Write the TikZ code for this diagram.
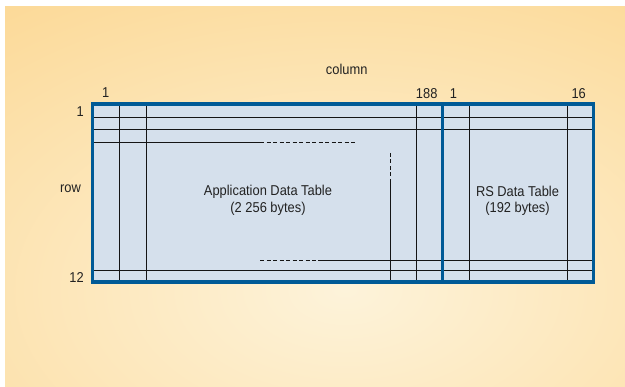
\documentclass[tikz,border=0pt]{standalone}
\usepackage{fontspec}
\setmainfont{Liberation Sans}[FakeStretch=0.9]
\definecolor{bgedge}{HTML}{FCD68F}
\definecolor{bgmid}{HTML}{FDF3DA}
\definecolor{cellfill}{HTML}{D5E0EC}
\definecolor{frameblue}{HTML}{005A96}
\definecolor{gridline}{HTML}{151515}
\definecolor{txt}{HTML}{222222}
\begin{document}
\begin{tikzpicture}[x=1pt,y=-1pt,
  gridrule/.style={draw=gridline, line width=1.3pt},
  gaprule/.style={gridrule, dash pattern=on 4pt off 2.5pt},
  frame/.style={draw=frameblue, line width=3.5pt},
  lbl/.style={text=txt, font=\fontsize{14.3}{17}\selectfont, inner sep=0pt, anchor=base}]
\useasboundingbox (0,0) rectangle (625,387);

% warm radial background
\begin{scope}
  \clip (5,7) rectangle (625,387);
  \fill[bgedge] (5,7) rectangle (625,387);
  \shade[inner color=bgmid, outer color=bgedge] (345,290) ellipse (660 and 400);
\end{scope}

% table corners
\coordinate (tl) at (92.5,104);
\coordinate (br) at (593.5,282);
\fill[cellfill] (tl) rectangle (br);

% horizontal rules
\draw[gridrule] (92.5,117.5) -- (593.5,117.5);
\draw[gridrule] (92.5,129.5) -- (593.5,129.5);
\draw[gridrule] (92.5,142.5) -- (260,142.5);
\draw[gaprule]  (260,142.5) -- (357,142.5);
\draw[gaprule]  (260,260.5) -- (318,260.5);
\draw[gridrule] (318,260.5) -- (593.5,260.5);
\draw[gridrule] (92.5,270.5) -- (593.5,270.5);

% vertical rules
\foreach \cx in {119.5,146.5,416.5,469.5,567.5}
  \draw[gridrule] (\cx,104) -- (\cx,282);
\draw[gaprule]  (390.5,153) -- (390.5,183);
\draw[gridrule] (390.5,183) -- (390.5,282);

% outer frame and divider between the two tables
\draw[frame] (tl) rectangle (br);
\draw[frame] (442.5,104) -- (442.5,282);

% axis labels
\node[lbl] (colhead) at (346.7,75) {column};
\node[lbl] (rowhead) at (70.5,192.5) {row};
\node[lbl] (cfirst)  at (105.7,98) {1};
\node[lbl] (clast)   at (426.7,99) {188};
\node[lbl] (rsfirst) at (453.5,99) {1};
\node[lbl] (rslast)  at (578.7,98.5) {16};
\node[lbl, anchor=base east] (rfirst) at (84,117) {1};
\node[lbl, anchor=base east] (rlast)  at (84,283) {12};

% table captions
\node[lbl] (appname) at (268,196) {Application Data Table};
\node[lbl] (appsize) at (268,213) {(2 256 bytes)};
\node[lbl] (rsname)  at (517.5,196.5) {RS Data Table};
\node[lbl] (rssize)  at (517.5,213) {(192 bytes)};
\end{tikzpicture}
\end{document}
